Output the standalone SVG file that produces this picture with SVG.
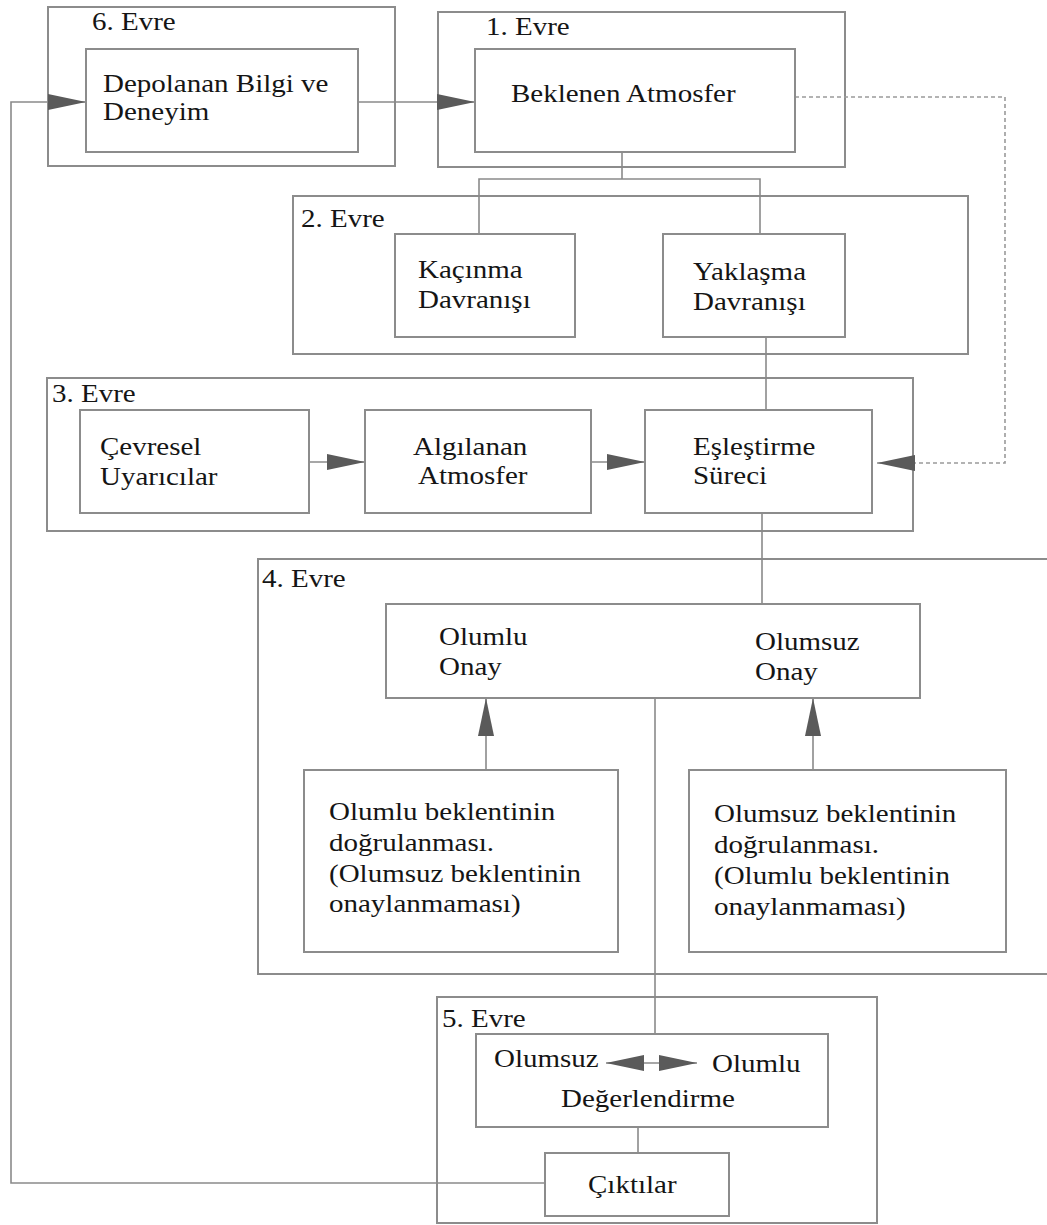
<svg xmlns="http://www.w3.org/2000/svg" width="1047" height="1225" viewBox="0 0 1047 1225">
  <style>
    .stage { fill: none; stroke: #8c8c8c; stroke-width: 2; }
    .box { fill: #ffffff; stroke: #8c8c8c; stroke-width: 2; }
    .wire { fill: none; stroke: #8a8a8a; stroke-width: 1.6; }
    .dash { fill: none; stroke: #9a9a9a; stroke-width: 1.6; stroke-dasharray: 4 3; }
    .lbl { font-family: 'Liberation Serif', Tinos, 'DejaVu Serif', serif; font-size: 25px; fill: #151515; }
  </style>
  <defs>
    <marker id="head" viewBox="0 0 38 16" refX="38" refY="8" markerWidth="38" markerHeight="16" markerUnits="userSpaceOnUse" orient="auto-start-reverse">
      <path d="M0,0 L38,8 L0,16 z" fill="#5a5a5a"/>
    </marker>
  </defs>

  <rect width="1047" height="1225" fill="#ffffff"/>

  <!-- all labels are set slightly wide: 25px type stretched 1.16x horizontally -->
  <g class="lbl">
  <!-- stage frames -->
  <g id="stage6"><rect class="stage" x="48" y="7" width="347" height="159"/><text transform="translate(92 30) scale(1.16 1)">6. Evre</text></g>
  <g id="stage1"><rect class="stage" x="438" y="12" width="407" height="155"/><text transform="translate(486 35) scale(1.16 1)">1. Evre</text></g>
  <g id="stage2"><rect class="stage" x="293" y="196" width="675" height="158"/><text transform="translate(301 227) scale(1.16 1)">2. Evre</text></g>
  <g id="stage3"><rect class="stage" x="47" y="378" width="866" height="153"/><text transform="translate(52 402) scale(1.16 1)">3. Evre</text></g>
  <g id="stage4"><rect class="stage" x="258" y="559" width="800" height="415"/><text transform="translate(262 587) scale(1.16 1)">4. Evre</text></g>
  <g id="stage5"><rect class="stage" x="437" y="997" width="440" height="226"/><text transform="translate(442 1027) scale(1.16 1)">5. Evre</text></g>

  <!-- connectors -->
  <g id="connectors">
    <path class="wire" d="M622,152 V179 M479,234 V179 H760 V234"/>
    <path class="wire" d="M766,337 V410"/>
    <path class="wire" d="M762,513 V604"/>
    <path class="wire" d="M655,698 V1034"/>
    <path class="wire" d="M638,1127 V1153"/>
    <path class="wire" d="M358,102 H475" marker-end="url(#head)"/>
    <path class="wire" d="M545,1183 H11 V102 H86" marker-end="url(#head)"/>
    <path class="dash" d="M795,97 H1005 V463 H877" marker-end="url(#head)"/>
    <path class="wire" d="M309,462 H365" marker-end="url(#head)"/>
    <path class="wire" d="M591,462 H645" marker-end="url(#head)"/>
    <path class="wire" d="M565,651 H730" marker-start="url(#head)" marker-end="url(#head)"/>
    <path class="wire" d="M486,770 V698" marker-end="url(#head)"/>
    <path class="wire" d="M813,770 V698" marker-end="url(#head)"/>
  </g>

  <!-- nodes -->
  <g id="depolanan"><rect class="box" x="86" y="49" width="272" height="103"/>
    <text transform="translate(103 92) scale(1.16 1)">Depolanan Bilgi ve</text>
    <text transform="translate(103 120) scale(1.16 1)">Deneyim</text></g>
  <g id="beklenen"><rect class="box" x="475" y="49" width="320" height="103"/>
    <text transform="translate(511 102) scale(1.16 1)">Beklenen Atmosfer</text></g>
  <g id="kacinma"><rect class="box" x="395" y="234" width="180" height="103"/>
    <text transform="translate(418 278) scale(1.16 1)">Kaçınma</text>
    <text transform="translate(418 308) scale(1.16 1)">Davranışı</text></g>
  <g id="yaklasma"><rect class="box" x="663" y="234" width="182" height="103"/>
    <text transform="translate(693 280) scale(1.16 1)">Yaklaşma</text>
    <text transform="translate(693 310) scale(1.16 1)">Davranışı</text></g>
  <g id="cevresel"><rect class="box" x="80" y="410" width="229" height="103"/>
    <text transform="translate(100 455) scale(1.16 1)">Çevresel</text>
    <text transform="translate(100 485) scale(1.16 1)">Uyarıcılar</text></g>
  <g id="algilanan"><rect class="box" x="365" y="410" width="226" height="103"/>
    <text transform="translate(413 455) scale(1.16 1)">Algılanan</text>
    <text transform="translate(418 484) scale(1.16 1)">Atmosfer</text></g>
  <g id="eslestirme"><rect class="box" x="645" y="410" width="227" height="103"/>
    <text transform="translate(693 455) scale(1.16 1)">Eşleştirme</text>
    <text transform="translate(693 484) scale(1.16 1)">Süreci</text></g>
  <g id="onay"><rect class="box" x="386" y="604" width="534" height="94"/>
    <text transform="translate(439 645) scale(1.16 1)">Olumlu</text>
    <text transform="translate(439 675) scale(1.16 1)">Onay</text>
    <text transform="translate(755 650) scale(1.16 1)">Olumsuz</text>
    <text transform="translate(755 680) scale(1.16 1)">Onay</text></g>
  <g id="olumlu-dogrulama"><rect class="box" x="304" y="770" width="314" height="182"/>
    <text transform="translate(329 820) scale(1.16 1)">Olumlu beklentinin</text>
    <text transform="translate(329 851) scale(1.16 1)">doğrulanması.</text>
    <text transform="translate(329 882) scale(1.16 1)">(Olumsuz beklentinin</text>
    <text transform="translate(329 912) scale(1.16 1)">onaylanmaması)</text></g>
  <g id="olumsuz-dogrulama"><rect class="box" x="689" y="770" width="317" height="182"/>
    <text transform="translate(714 822) scale(1.16 1)">Olumsuz beklentinin</text>
    <text transform="translate(714 853) scale(1.16 1)">doğrulanması.</text>
    <text transform="translate(714 884) scale(1.16 1)">(Olumlu beklentinin</text>
    <text transform="translate(714 915) scale(1.16 1)">onaylanmaması)</text></g>
  <g id="degerlendirme"><rect class="box" x="476" y="1034" width="352" height="93"/>
    <text transform="translate(494 1067) scale(1.16 1)">Olumsuz</text>
    <text transform="translate(712 1072) scale(1.16 1)">Olumlu</text>
    <text transform="translate(561 1107) scale(1.16 1)">Değerlendirme</text>
    <path class="wire" d="M606,1063 H697" marker-start="url(#head)" marker-end="url(#head)"/></g>
  <g id="ciktilar"><rect class="box" x="545" y="1153" width="184" height="63"/>
    <text transform="translate(588 1193) scale(1.16 1)">Çıktılar</text></g>
  </g>
</svg>
